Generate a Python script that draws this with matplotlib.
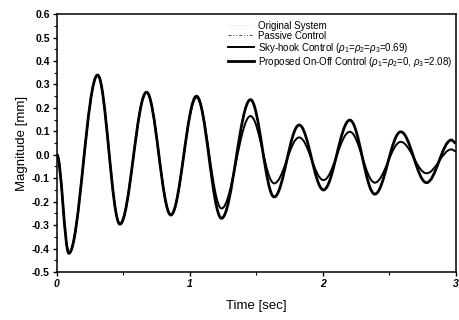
import numpy as np
import matplotlib.pyplot as plt
from matplotlib.path import Path
from matplotlib.patches import PathPatch
from matplotlib.lines import Line2D

# peaks / troughs (time in sec, magnitude in mm)
t_ext = [0.0, 0.09, 0.306, 0.474, 0.674, 0.857, 1.05, 1.238, 1.456, 1.634,
         1.822, 2.005, 2.203, 2.391, 2.586, 2.78, 2.967, 3.0]
proposed = [0.0, -0.42, 0.34, -0.296, 0.267, -0.257, 0.25, -0.271, 0.235, -0.18,
            0.127, -0.15, 0.148, -0.168, 0.098, -0.119, 0.063, 0.05]
skyhook = [0.0, -0.42, 0.34, -0.296, 0.267, -0.257, 0.245, -0.229, 0.165, -0.122,
           0.074, -0.108, 0.098, -0.119, 0.055, -0.079, 0.023, 0.015]

yticks = [0.6, 0.5, 0.4, 0.3, 0.2, 0.1, 0.0, -0.1, -0.2, -0.3, -0.4, -0.5]
xticks = [0, 1, 2, 3]


def smooth_path(t, v, k=0.36):
    # cubic bezier between extrema, flat tangent at each extremum
    verts = [(t[0], v[0])]
    codes = [Path.MOVETO]
    for i in range(len(t) - 1):
        dt = t[i + 1] - t[i]
        verts += [(t[i] + k * dt, v[i]), (t[i + 1] - k * dt, v[i + 1]), (t[i + 1], v[i + 1])]
        codes += [Path.CURVE4] * 3
    return Path(verts, codes)


plt.rcParams['font.family'] = ['Liberation Sans', 'DejaVu Sans']
plt.rcParams['mathtext.fontset'] = 'custom'
plt.rcParams['mathtext.rm'] = 'Liberation Sans'
plt.rcParams['mathtext.it'] = 'Liberation Sans:italic'

fig = plt.figure(figsize=(4.59, 3.2), dpi=100)
ax = fig.add_axes([0.124, 0.15, 0.869, 0.806])

ax.add_patch(PathPatch(smooth_path(t_ext, skyhook), fill=False, lw=1.4, ec='black'))
ax.add_patch(PathPatch(smooth_path(t_ext, proposed), fill=False, lw=2.0, ec='black'))

ax.set_xlim(0, 3)
ax.set_ylim(-0.5, 0.6)
ax.set_xticks(xticks)
ax.set_xticklabels([str(x) for x in xticks], fontstyle='italic', fontweight='bold', fontsize=7.5)
ax.set_xticks([0.5, 1.5, 2.5], minor=True)
ax.set_yticks(yticks)
ax.set_yticklabels([f'{y:.1f}' for y in yticks], fontweight='bold', fontsize=7.5)
ax.set_yticks(np.arange(-0.45, 0.6, 0.1), minor=True)
ax.tick_params(which='major', direction='out', length=3, width=1, pad=2)
ax.tick_params(which='minor', direction='out', length=2, width=0.8)
for s in ax.spines.values():
    s.set_linewidth(1.1)

ax.set_xlabel('Time [sec]', fontsize=9.5, labelpad=8)
ax.set_ylabel('Magnitude [mm]', fontsize=9.5, labelpad=3)

handles = [
    Line2D([], [], color='0.85', lw=0.6, ls=':'),
    Line2D([], [], color='0.3', lw=0.7, ls=(0, (3, 2, 1, 2, 1, 2))),
    Line2D([], [], color='black', lw=1.4),
    Line2D([], [], color='black', lw=2.0),
]
labels = [
    'Original System',
    'Passive Control',
    r'Sky-hook Control ($\rho_1$=$\rho_2$=$\rho_3$=0.69)',
    r'Proposed On-Off Control ($\rho_1$=$\rho_2$=0, $\rho_3$=2.08)',
]
ax.legend(handles, labels, loc='upper right', frameon=False, fontsize=7,
          handlelength=2.6, handletextpad=0.4, labelspacing=0.0,
          borderaxespad=0.0, bbox_to_anchor=(1.0, 0.99))

fig.savefig('out.png', dpi=100)
